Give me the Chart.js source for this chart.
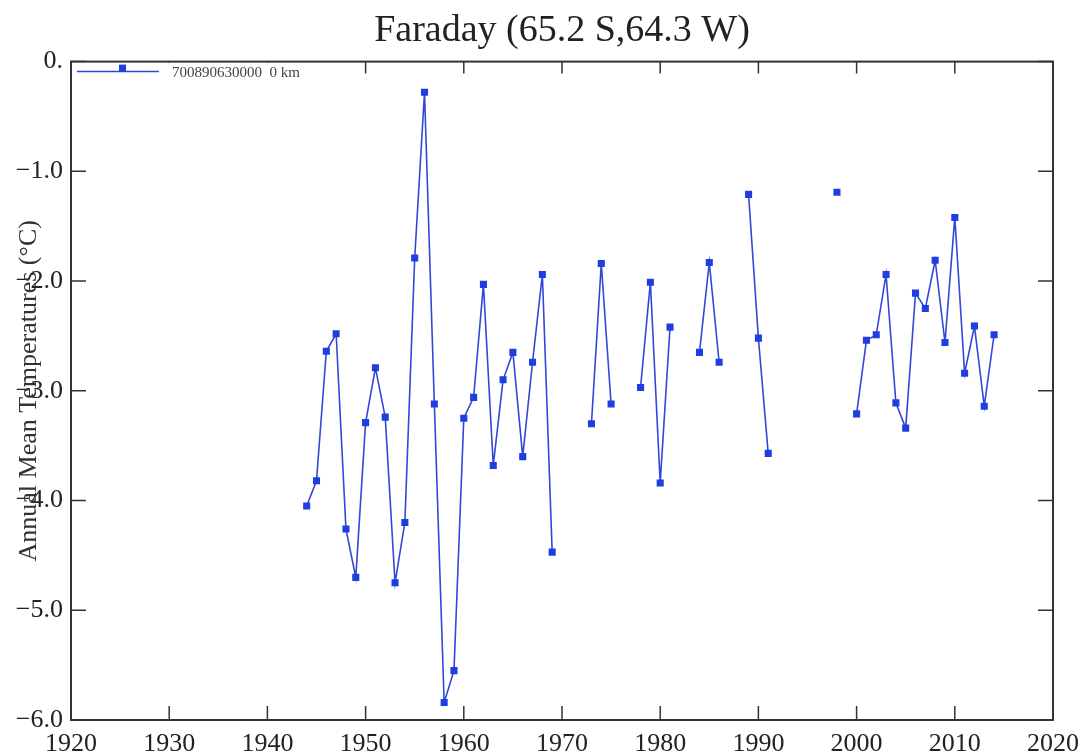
<!DOCTYPE html>
<html lang="en">
<head>
    <meta charset="UTF-8">
    <title>Faraday annual mean temperatures</title>
    <script src="https://cdn.jsdelivr.net/npm/chart.js"></script>
    <style>
        html, body { margin: 0; padding: 0; background: #ffffff; }
        .wrap { width: 1088px; height: 753px; position: relative; }
    </style>
</head>
<body>
    <div class="wrap"><canvas id="tempChart"></canvas></div>

    <script>
        // station data
        const years = [
            1944, 1945, 1946, 1947, 1948, 1949, 1950, 1951, 1952, 1953,
            1954, 1955, 1956, 1957, 1958, 1959, 1960, 1961, 1962, 1963,
            1964, 1965, 1966, 1967, 1968, 1969, 1970, 1971, 1972, 1973,
            1974, 1975, 1976, 1977, 1978, 1979, 1980, 1981, 1982, 1983,
            1984, 1985, 1986, 1987, 1988, 1989, 1990, 1991, 1992, 1993,
            1994, 1995, 1996, 1997, 1998, 1999, 2000, 2001, 2002, 2003,
            2004, 2005, 2006, 2007, 2008, 2009, 2010, 2011, 2012, 2013,
            2014
        ];
        const temps = [
            -4.05, -3.82, -2.64, -2.48, -4.26, -4.70, -3.29, -2.79, -3.24, -4.75,
            -4.20, -1.79, -0.28, -3.12, -5.84, -5.55, -3.25, -3.06, -2.03, -3.68,
            -2.90, -2.65, -3.60, -2.74, -1.94, -4.47, null, null, null, -3.30,
            -1.84, -3.12, null, null, -2.97, -2.01, -3.84, -2.42, null, null,
            -2.65, -1.83, -2.74, null, null, -1.21, -2.52, -3.57, null, null,
            null, null, null, null, -1.19, null, -3.21, -2.54, -2.49, -1.94,
            -3.11, -3.34, -2.11, -2.25, -1.81, -2.56, -1.42, -2.84, -2.41, -3.14,
            -2.49
        ];
        const xTicks = [1920, 1930, 1940, 1950, 1960, 1970, 1980, 1990, 2000, 2010, 2020];
        const yTicks = [0, -1, -2, -3, -4, -5, -6];
        const seriesLabel = '700890630000  0 km';

        const serif = "'Liberation Serif', 'DejaVu Serif', serif";
        const lineColor = '#3346d8';
        const markColor = '#1f3ee0';

        // frame, inward ticks, y title and in-plot legend
        const framePlugin = {
            id: 'frame',
            afterDraw(chart) {
                const { ctx, chartArea: a, scales } = chart;
                ctx.save();

                ctx.strokeStyle = '#333';
                ctx.lineWidth = 1.5;
                ctx.beginPath();
                xTicks.forEach(v => {
                    const px = scales.x.getPixelForValue(v);
                    ctx.moveTo(px, a.bottom); ctx.lineTo(px, a.bottom - 14);
                    ctx.moveTo(px, a.top); ctx.lineTo(px, a.top + 12);
                });
                yTicks.forEach(v => {
                    const py = scales.y.getPixelForValue(v);
                    ctx.moveTo(a.left, py); ctx.lineTo(a.left + 15, py);
                    ctx.moveTo(a.right, py); ctx.lineTo(a.right - 15, py);
                });
                ctx.stroke();

                // legend box covers the top ticks behind it
                const ly = a.top + 10;
                ctx.fillStyle = '#fff';
                ctx.fillRect(a.left + 1, a.top + 1, 250, 20);
                ctx.strokeStyle = lineColor;
                ctx.lineWidth = 1.5;
                ctx.beginPath();
                ctx.moveTo(a.left + 6, ly); ctx.lineTo(a.left + 88, ly);
                ctx.stroke();
                ctx.fillStyle = markColor;
                ctx.fillRect(a.left + 48, ly - 7, 7, 7);
                ctx.fillStyle = '#444';
                ctx.font = '15px ' + serif;
                ctx.textAlign = 'left';
                ctx.textBaseline = 'middle';
                ctx.fillText(seriesLabel, a.left + 101, ly + 1);

                ctx.strokeStyle = '#333';
                ctx.lineWidth = 2;
                ctx.strokeRect(a.left, a.top, a.right - a.left, a.bottom - a.top);

                // y axis title, overlapping the tick labels as in the source
                ctx.fillStyle = '#333';
                ctx.font = '26px ' + serif;
                ctx.textAlign = 'center';
                ctx.translate(29, (a.top + a.bottom) / 2);
                ctx.rotate(-Math.PI / 2);
                ctx.fillText('Annual Mean Temperatures (°C)', 0, 0);
                ctx.restore();
            }
        };

        const ctx = document.getElementById('tempChart').getContext('2d');
        new Chart(ctx, {
            type: 'line',
            data: {
                labels: years,
                datasets: [{
                    label: seriesLabel,
                    data: years.map((y, i) => ({ x: y, y: temps[i] })),
                    borderColor: lineColor,
                    backgroundColor: markColor,
                    borderWidth: 1.6,
                    pointStyle: 'rect',
                    pointRadius: 5,
                    pointBorderWidth: 0,
                    spanGaps: false,
                    tension: 0
                }]
            },
            options: {
                responsive: true,
                maintainAspectRatio: false,
                animation: false,
                layout: { padding: { left: 0, right: 34, top: 0, bottom: 0 } },
                scales: {
                    x: {
                        type: 'linear',
                        min: 1920,
                        max: 2020,
                        afterBuildTicks: s => { s.ticks = xTicks.map(v => ({ value: v })); },
                        afterFit: s => { s.height = 33; },
                        grid: { display: false, drawTicks: false },
                        border: { display: false },
                        ticks: {
                            font: { family: serif, size: 26 },
                            color: '#222',
                            padding: 9,
                            maxRotation: 0,
                            callback: v => String(v)
                        }
                    },
                    y: {
                        min: -6,
                        max: 0,
                        afterBuildTicks: s => { s.ticks = yTicks.map(v => ({ value: v })); },
                        afterFit: s => { s.width = 71; },
                        grid: { display: false, drawTicks: false },
                        border: { display: false },
                        ticks: {
                            font: { family: serif, size: 26 },
                            color: '#222',
                            padding: 8,
                            callback: v => v === 0 ? '0.' : '\u2212' + Math.abs(v).toFixed(1)
                        }
                    }
                },
                plugins: {
                    legend: { display: false },
                    tooltip: { enabled: false },
                    title: {
                        display: true,
                        fullSize: false,
                        text: 'Faraday (65.2 S,64.3 W)',
                        color: '#222',
                        font: { family: serif, size: 38, weight: 'normal' },
                        padding: { top: 8, bottom: 8 }
                    }
                }
            },
            plugins: [framePlugin]
        });
    </script>
</body>
</html>
